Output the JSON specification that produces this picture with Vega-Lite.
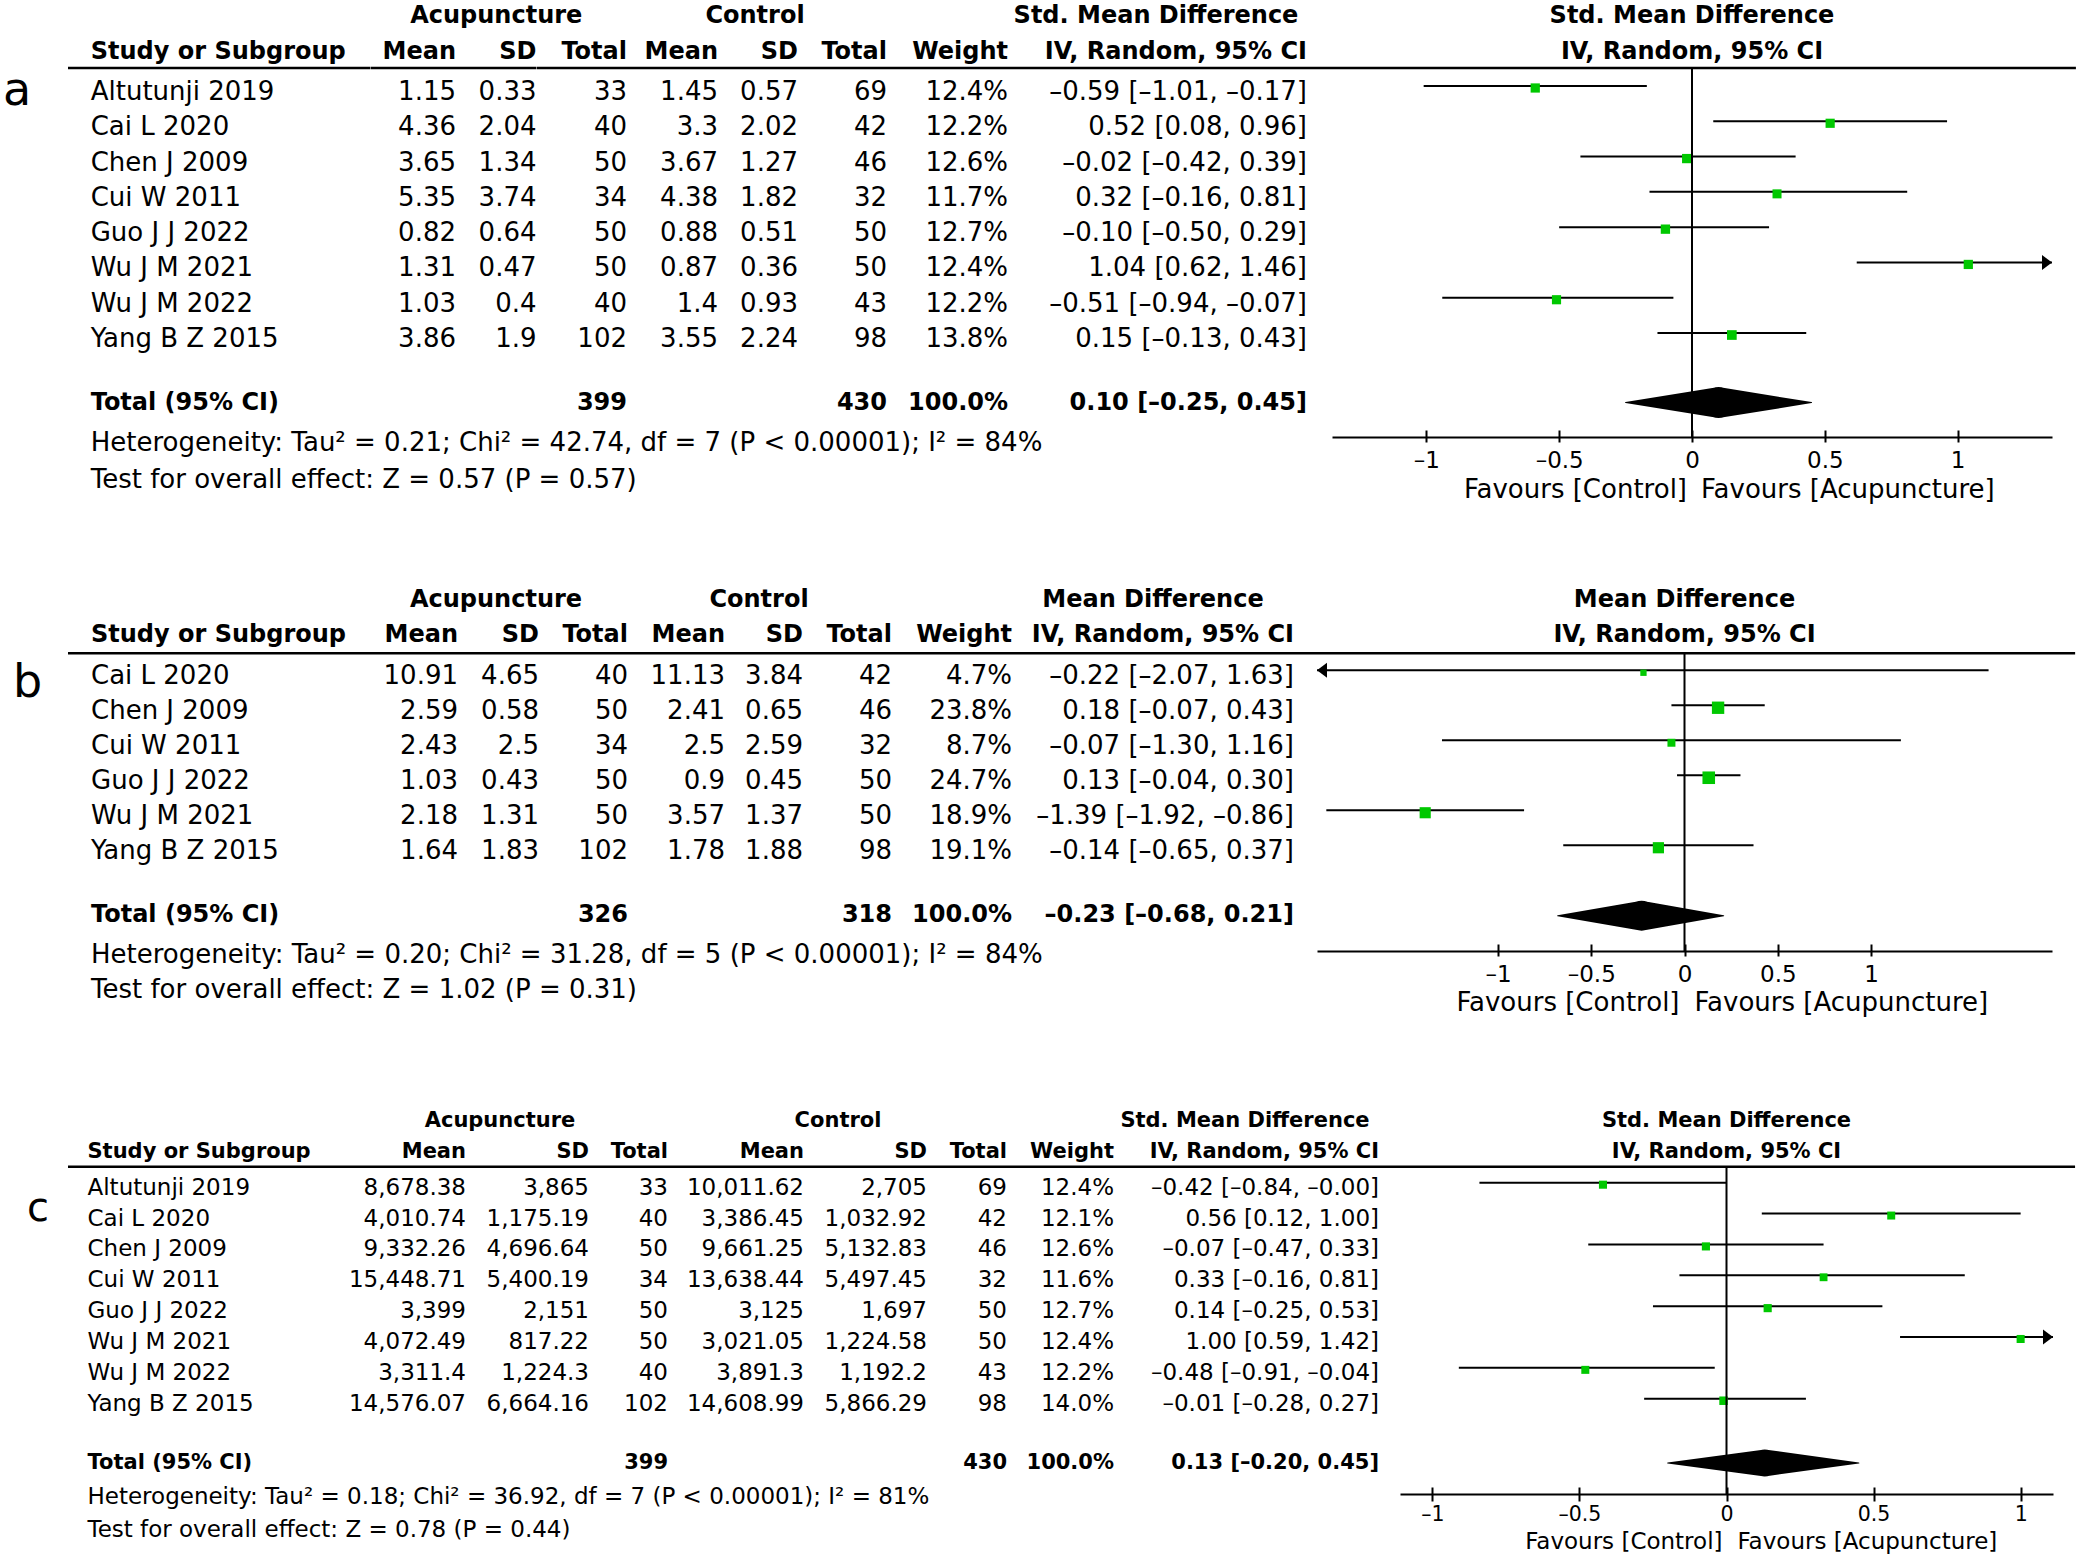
{
"$schema": "https://vega.github.io/schema/vega-lite/v6.json",
"background": "white",
"padding": 0,
"spacing": 0,
"resolve": {"scale": {"size": "independent"}},
"config": {
  "font": "DejaVu Sans",
  "view": {"stroke": null},
  "axisY": {"disable": true},
  "axis": {"grid": false},
  "text": {"fontSize": 26, "baseline": "middle", "color": "black"},
  "rule": {"color": "black"}
},
"datasets": {
  "a": [
    {"study": "Altutunji 2019", "am": 1.15, "asd": 0.33, "at": 33, "cm": 1.45, "csd": 0.57, "ct": 69, "w": 12.4, "es": -0.59, "lo": -1.01, "hi": -0.17},
    {"study": "Cai L 2020", "am": 4.36, "asd": 2.04, "at": 40, "cm": 3.3, "csd": 2.02, "ct": 42, "w": 12.2, "es": 0.52, "lo": 0.08, "hi": 0.96},
    {"study": "Chen J 2009", "am": 3.65, "asd": 1.34, "at": 50, "cm": 3.67, "csd": 1.27, "ct": 46, "w": 12.6, "es": -0.02, "lo": -0.42, "hi": 0.39},
    {"study": "Cui W 2011", "am": 5.35, "asd": 3.74, "at": 34, "cm": 4.38, "csd": 1.82, "ct": 32, "w": 11.7, "es": 0.32, "lo": -0.16, "hi": 0.81},
    {"study": "Guo J J 2022", "am": 0.82, "asd": 0.64, "at": 50, "cm": 0.88, "csd": 0.51, "ct": 50, "w": 12.7, "es": -0.10, "lo": -0.50, "hi": 0.29},
    {"study": "Wu J M 2021", "am": 1.31, "asd": 0.47, "at": 50, "cm": 0.87, "csd": 0.36, "ct": 50, "w": 12.4, "es": 1.04, "lo": 0.62, "hi": 1.46},
    {"study": "Wu J M 2022", "am": 1.03, "asd": 0.4, "at": 40, "cm": 1.4, "csd": 0.93, "ct": 43, "w": 12.2, "es": -0.51, "lo": -0.94, "hi": -0.07},
    {"study": "Yang B Z 2015", "am": 3.86, "asd": 1.9, "at": 102, "cm": 3.55, "csd": 2.24, "ct": 98, "w": 13.8, "es": 0.15, "lo": -0.13, "hi": 0.43}
  ],
  "aT": [
    {"label": "Total (95% CI)", "at": 399, "ct": 430, "w": 100, "es": 0.10, "lo": -0.25, "hi": 0.45,
     "het": "Heterogeneity: Tau² = 0.21; Chi² = 42.74, df = 7 (P < 0.00001); I² = 84%",
     "test": "Test for overall effect: Z = 0.57 (P = 0.57)"}
  ],
  "b": [
    {"study": "Cai L 2020", "am": 10.91, "asd": 4.65, "at": 40, "cm": 11.13, "csd": 3.84, "ct": 42, "w": 4.7, "es": -0.22, "lo": -2.07, "hi": 1.63},
    {"study": "Chen J 2009", "am": 2.59, "asd": 0.58, "at": 50, "cm": 2.41, "csd": 0.65, "ct": 46, "w": 23.8, "es": 0.18, "lo": -0.07, "hi": 0.43},
    {"study": "Cui W 2011", "am": 2.43, "asd": 2.5, "at": 34, "cm": 2.5, "csd": 2.59, "ct": 32, "w": 8.7, "es": -0.07, "lo": -1.30, "hi": 1.16},
    {"study": "Guo J J 2022", "am": 1.03, "asd": 0.43, "at": 50, "cm": 0.9, "csd": 0.45, "ct": 50, "w": 24.7, "es": 0.13, "lo": -0.04, "hi": 0.30},
    {"study": "Wu J M 2021", "am": 2.18, "asd": 1.31, "at": 50, "cm": 3.57, "csd": 1.37, "ct": 50, "w": 18.9, "es": -1.39, "lo": -1.92, "hi": -0.86},
    {"study": "Yang B Z 2015", "am": 1.64, "asd": 1.83, "at": 102, "cm": 1.78, "csd": 1.88, "ct": 98, "w": 19.1, "es": -0.14, "lo": -0.65, "hi": 0.37}
  ],
  "bT": [
    {"label": "Total (95% CI)", "at": 326, "ct": 318, "w": 100, "es": -0.23, "lo": -0.68, "hi": 0.21,
     "het": "Heterogeneity: Tau² = 0.20; Chi² = 31.28, df = 5 (P < 0.00001); I² = 84%",
     "test": "Test for overall effect: Z = 1.02 (P = 0.31)"}
  ],
  "c": [
    {"study": "Altutunji 2019", "am": "8,678.38", "asd": "3,865", "at": 33, "cm": "10,011.62", "csd": "2,705", "ct": 69, "w": 12.4, "es": -0.42, "lo": -0.84, "hi": -0.0},
    {"study": "Cai L 2020", "am": "4,010.74", "asd": "1,175.19", "at": 40, "cm": "3,386.45", "csd": "1,032.92", "ct": 42, "w": 12.1, "es": 0.56, "lo": 0.12, "hi": 1.00},
    {"study": "Chen J 2009", "am": "9,332.26", "asd": "4,696.64", "at": 50, "cm": "9,661.25", "csd": "5,132.83", "ct": 46, "w": 12.6, "es": -0.07, "lo": -0.47, "hi": 0.33},
    {"study": "Cui W 2011", "am": "15,448.71", "asd": "5,400.19", "at": 34, "cm": "13,638.44", "csd": "5,497.45", "ct": 32, "w": 11.6, "es": 0.33, "lo": -0.16, "hi": 0.81},
    {"study": "Guo J J 2022", "am": "3,399", "asd": "2,151", "at": 50, "cm": "3,125", "csd": "1,697", "ct": 50, "w": 12.7, "es": 0.14, "lo": -0.25, "hi": 0.53},
    {"study": "Wu J M 2021", "am": "4,072.49", "asd": "817.22", "at": 50, "cm": "3,021.05", "csd": "1,224.58", "ct": 50, "w": 12.4, "es": 1.00, "lo": 0.59, "hi": 1.42},
    {"study": "Wu J M 2022", "am": "3,311.4", "asd": "1,224.3", "at": 40, "cm": "3,891.3", "csd": "1,192.2", "ct": 43, "w": 12.2, "es": -0.48, "lo": -0.91, "hi": -0.04},
    {"study": "Yang B Z 2015", "am": "14,576.07", "asd": "6,664.16", "at": 102, "cm": "14,608.99", "csd": "5,866.29", "ct": 98, "w": 14.0, "es": -0.01, "lo": -0.28, "hi": 0.27}
  ],
  "cT": [
    {"label": "Total (95% CI)", "at": 399, "ct": 430, "w": 100, "es": 0.13, "lo": -0.20, "hi": 0.45,
     "het": "Heterogeneity: Tau² = 0.18; Chi² = 36.92, df = 7 (P < 0.00001); I² = 81%",
     "test": "Test for overall effect: Z = 0.78 (P = 0.44)"}
  ]
},
"vconcat": [
{"spacing": 0, "bounds": "flush", "hconcat": [
  {"width": 68, "height": 586, "data": {"values": [{"p": "a"}]},
   "mark": {"type": "text", "align": "left", "baseline": "alphabetic", "fontSize": 46, "dx": 3, "dy": 15},
   "encoding": {"x": {"value": 0}, "y": {"datum": 1, "scale": {"domain": [-1.55, 15.055], "reverse": true, "nice": false, "zero": false}}, "text": {"field": "p", "type": "nominal"}}},
  {"width": 302.5, "height": 586, "data": {"name": "a"}, "transform": [{"window": [{"op": "row_number", "as": "r"}]}],
   "layer": [
    {"mark": {"type": "text", "align": "left", "dx": 22.7, "dy": 2}, "encoding": {"x": {"value": 0}, "y": {"field": "r", "type": "quantitative", "scale": {"domain": [-1.55, 15.055], "reverse": true, "nice": false, "zero": false}}, "text": {"field": "study", "type": "nominal"}}},
    {"data": {"values": [{}]}, "mark": {"type": "rule", "strokeWidth": 2.5}, "encoding": {"y": {"datum": 0.377}}},
    {"data": {"values": [{"h": "Study or Subgroup"}]}, "mark": {"type": "text", "fontSize": 24, "align": "left", "fontWeight": "bold", "dx": 22.7, "dy": -3}, "encoding": {"x": {"value": 0}, "y": {"datum": 0}, "text": {"field": "h", "type": "nominal"}}},
    {"data": {"name": "aT"}, "mark": {"type": "text", "fontSize": 24, "align": "left", "fontWeight": "bold", "dx": 22.7, "dy": -5}, "encoding": {"x": {"value": 0}, "y": {"datum": 10}, "text": {"field": "label", "type": "nominal"}}},
    {"data": {"name": "aT"}, "mark": {"type": "text", "align": "left", "dx": 22.7}, "encoding": {"x": {"value": 0}, "y": {"datum": 11}, "text": {"field": "het", "type": "nominal"}}},
    {"data": {"name": "aT"}, "mark": {"type": "text", "align": "left", "dx": 22.7, "dy": 2}, "encoding": {"x": {"value": 0}, "y": {"datum": 12}, "text": {"field": "test", "type": "nominal"}}}
   ]},
  {"width": 85, "height": 586, "data": {"name": "a"}, "transform": [{"window": [{"op": "row_number", "as": "r"}]}],
   "layer": [
    {"mark": {"type": "text", "align": "right", "dy": 2}, "encoding": {"x": {"value": "width"}, "y": {"field": "r", "type": "quantitative", "scale": {"domain": [-1.55, 15.055], "reverse": true, "nice": false, "zero": false}}, "text": {"field": "am", "type": "nominal"}}},
    {"data": {"values": [{}]}, "mark": {"type": "rule", "strokeWidth": 2.5}, "encoding": {"y": {"datum": 0.377}}},
    {"data": {"values": [{"h": "Mean"}]}, "mark": {"type": "text", "fontSize": 24, "align": "right", "fontWeight": "bold", "dy": -3}, "encoding": {"x": {"value": "width"}, "y": {"datum": 0}, "text": {"field": "h", "type": "nominal"}}}
   ]},
  {"width": 80.5, "height": 586, "data": {"name": "a"}, "transform": [{"window": [{"op": "row_number", "as": "r"}]}],
   "layer": [
    {"mark": {"type": "text", "align": "right", "dy": 2}, "encoding": {"x": {"value": "width"}, "y": {"field": "r", "type": "quantitative", "scale": {"domain": [-1.55, 15.055], "reverse": true, "nice": false, "zero": false}}, "text": {"field": "asd", "type": "nominal"}}},
    {"data": {"values": [{}]}, "mark": {"type": "rule", "strokeWidth": 2.5}, "encoding": {"y": {"datum": 0.377}}},
    {"data": {"values": [{"h": "Acupuncture"}]}, "mark": {"type": "text", "fontSize": 24, "fontWeight": "bold", "dy": -3}, "encoding": {"y": {"datum": -1}, "text": {"field": "h", "type": "nominal"}}},
    {"data": {"values": [{"h": "SD"}]}, "mark": {"type": "text", "fontSize": 24, "align": "right", "fontWeight": "bold", "dy": -3}, "encoding": {"x": {"value": "width"}, "y": {"datum": 0}, "text": {"field": "h", "type": "nominal"}}}
   ]},
  {"width": 90, "height": 586, "data": {"name": "a"}, "transform": [{"window": [{"op": "row_number", "as": "r"}]}],
   "layer": [
    {"mark": {"type": "text", "align": "right", "dy": 2}, "encoding": {"x": {"value": "width"}, "y": {"field": "r", "type": "quantitative", "scale": {"domain": [-1.55, 15.055], "reverse": true, "nice": false, "zero": false}}, "text": {"field": "at", "type": "nominal"}}},
    {"data": {"values": [{}]}, "mark": {"type": "rule", "strokeWidth": 2.5}, "encoding": {"y": {"datum": 0.377}}},
    {"data": {"values": [{"h": "Total"}]}, "mark": {"type": "text", "fontSize": 24, "align": "right", "fontWeight": "bold", "dy": -3}, "encoding": {"x": {"value": "width"}, "y": {"datum": 0}, "text": {"field": "h", "type": "nominal"}}},
    {"data": {"name": "aT"}, "mark": {"type": "text", "fontSize": 24, "align": "right", "fontWeight": "bold", "dy": -5}, "encoding": {"x": {"value": "width"}, "y": {"datum": 10}, "text": {"field": "at", "type": "nominal"}}}
   ]},
  {"width": 91, "height": 586, "data": {"name": "a"}, "transform": [{"window": [{"op": "row_number", "as": "r"}]}],
   "layer": [
    {"mark": {"type": "text", "align": "right", "dy": 2}, "encoding": {"x": {"value": "width"}, "y": {"field": "r", "type": "quantitative", "scale": {"domain": [-1.55, 15.055], "reverse": true, "nice": false, "zero": false}}, "text": {"field": "cm", "type": "nominal"}}},
    {"data": {"values": [{}]}, "mark": {"type": "rule", "strokeWidth": 2.5}, "encoding": {"y": {"datum": 0.377}}},
    {"data": {"values": [{"h": "Mean"}]}, "mark": {"type": "text", "fontSize": 24, "align": "right", "fontWeight": "bold", "dy": -3}, "encoding": {"x": {"value": "width"}, "y": {"datum": 0}, "text": {"field": "h", "type": "nominal"}}}
   ]},
  {"width": 80, "height": 586, "data": {"name": "a"}, "transform": [{"window": [{"op": "row_number", "as": "r"}]}],
   "layer": [
    {"mark": {"type": "text", "align": "right", "dy": 2}, "encoding": {"x": {"value": "width"}, "y": {"field": "r", "type": "quantitative", "scale": {"domain": [-1.55, 15.055], "reverse": true, "nice": false, "zero": false}}, "text": {"field": "csd", "type": "nominal"}}},
    {"data": {"values": [{}]}, "mark": {"type": "rule", "strokeWidth": 2.5}, "encoding": {"y": {"datum": 0.377}}},
    {"data": {"values": [{"h": "Control"}]}, "mark": {"type": "text", "fontSize": 24, "fontWeight": "bold", "dy": -3, "dx": -3}, "encoding": {"y": {"datum": -1}, "text": {"field": "h", "type": "nominal"}}},
    {"data": {"values": [{"h": "SD"}]}, "mark": {"type": "text", "fontSize": 24, "align": "right", "fontWeight": "bold", "dy": -3}, "encoding": {"x": {"value": "width"}, "y": {"datum": 0}, "text": {"field": "h", "type": "nominal"}}}
   ]},
  {"width": 89, "height": 586, "data": {"name": "a"}, "transform": [{"window": [{"op": "row_number", "as": "r"}]}],
   "layer": [
    {"mark": {"type": "text", "align": "right", "dy": 2}, "encoding": {"x": {"value": "width"}, "y": {"field": "r", "type": "quantitative", "scale": {"domain": [-1.55, 15.055], "reverse": true, "nice": false, "zero": false}}, "text": {"field": "ct", "type": "nominal"}}},
    {"data": {"values": [{}]}, "mark": {"type": "rule", "strokeWidth": 2.5}, "encoding": {"y": {"datum": 0.377}}},
    {"data": {"values": [{"h": "Total"}]}, "mark": {"type": "text", "fontSize": 24, "align": "right", "fontWeight": "bold", "dy": -3}, "encoding": {"x": {"value": "width"}, "y": {"datum": 0}, "text": {"field": "h", "type": "nominal"}}},
    {"data": {"name": "aT"}, "mark": {"type": "text", "fontSize": 24, "align": "right", "fontWeight": "bold", "dy": -5}, "encoding": {"x": {"value": "width"}, "y": {"datum": 10}, "text": {"field": "ct", "type": "nominal"}}}
   ]},
  {"width": 121, "height": 586, "data": {"name": "a"}, "transform": [{"window": [{"op": "row_number", "as": "r"}]}, {"calculate": "format(datum.w, '.1f') + '%'", "as": "wl"}],
   "layer": [
    {"mark": {"type": "text", "align": "right", "dy": 2}, "encoding": {"x": {"value": "width"}, "y": {"field": "r", "type": "quantitative", "scale": {"domain": [-1.55, 15.055], "reverse": true, "nice": false, "zero": false}}, "text": {"field": "wl", "type": "nominal"}}},
    {"data": {"values": [{}]}, "mark": {"type": "rule", "strokeWidth": 2.5}, "encoding": {"y": {"datum": 0.377}}},
    {"data": {"values": [{"h": "Weight"}]}, "mark": {"type": "text", "fontSize": 24, "align": "right", "fontWeight": "bold", "dy": -3}, "encoding": {"x": {"value": "width"}, "y": {"datum": 0}, "text": {"field": "h", "type": "nominal"}}},
    {"data": {"name": "aT"}, "transform": [{"calculate": "format(datum.w, '.1f') + '%'", "as": "wl"}], "mark": {"type": "text", "fontSize": 24, "align": "right", "fontWeight": "bold", "dy": -5}, "encoding": {"x": {"value": "width"}, "y": {"datum": 10}, "text": {"field": "wl", "type": "nominal"}}}
   ]},
  {"width": 324, "height": 586, "data": {"name": "a"}, "transform": [{"window": [{"op": "row_number", "as": "r"}]}, {"calculate": "(datum.es < 0 || 1 / datum.es < 0 ? '\u2013' : '') + format(abs(datum.es), '.2f') + ' [' + (datum.lo < 0 || 1 / datum.lo < 0 ? '\u2013' : '') + format(abs(datum.lo), '.2f') + ', ' + (datum.hi < 0 || 1 / datum.hi < 0 ? '\u2013' : '') + format(abs(datum.hi), '.2f') + ']'", "as": "ci"}],
   "layer": [
    {"mark": {"type": "text", "align": "right", "dx": -25, "dy": 2}, "encoding": {"x": {"value": "width"}, "y": {"field": "r", "type": "quantitative", "scale": {"domain": [-1.55, 15.055], "reverse": true, "nice": false, "zero": false}}, "text": {"field": "ci", "type": "nominal"}}},
    {"data": {"values": [{}]}, "mark": {"type": "rule", "strokeWidth": 2.5}, "encoding": {"y": {"datum": 0.377}}},
    {"data": {"values": [{"h": "Std. Mean Difference"}]}, "mark": {"type": "text", "fontSize": 24, "fontWeight": "bold", "dy": -3, "dx": -14}, "encoding": {"y": {"datum": -1}, "text": {"field": "h", "type": "nominal"}}},
    {"data": {"values": [{"h": "IV, Random, 95% CI"}]}, "mark": {"type": "text", "fontSize": 24, "align": "right", "fontWeight": "bold", "dy": -3, "dx": -25}, "encoding": {"x": {"value": "width"}, "y": {"datum": 0}, "text": {"field": "h", "type": "nominal"}}},
    {"data": {"name": "aT"}, "transform": [{"calculate": "(datum.es < 0 || 1 / datum.es < 0 ? '\u2013' : '') + format(abs(datum.es), '.2f') + ' [' + (datum.lo < 0 || 1 / datum.lo < 0 ? '\u2013' : '') + format(abs(datum.lo), '.2f') + ', ' + (datum.hi < 0 || 1 / datum.hi < 0 ? '\u2013' : '') + format(abs(datum.hi), '.2f') + ']'", "as": "ci"}], "mark": {"type": "text", "fontSize": 24, "align": "right", "fontWeight": "bold", "dy": -5, "dx": -25}, "encoding": {"x": {"value": "width"}, "y": {"datum": 10}, "text": {"field": "ci", "type": "nominal"}}}
   ]},
  {"width": 720, "height": 437, "data": {"name": "a"},
   "transform": [{"window": [{"op": "row_number", "as": "r"}]}, {"calculate": "max(datum.lo, -1.355)", "as": "loC"}, {"calculate": "min(datum.hi, 1.355)", "as": "hiC"}],
   "resolve": {"axis": {"x": "independent"}, "scale": {"size": "independent"}},
   "layer": [
    {"mark": {"type": "rule", "strokeWidth": 2, "yOffset": -4},
     "encoding": {"x": {"field": "loC", "type": "quantitative", "scale": {"domain": [-1.355, 1.355], "nice": false, "zero": false},
       "axis": {"orient": "bottom", "values": [-1, -0.5, 0, 0.5, 1], "title": null, "domain": true, "domainColor": "black", "domainWidth": 2, "ticks": false, "tickSize": 0, "labelFontSize": 23, "labelColor": "black", "labelPadding": 12, "labelFlush": false, "labelOverlap": false, "labelExpr": "(datum.value < 0 ? '\u2013' : '') + abs(datum.value)"}},
      "x2": {"field": "hiC"},
      "y": {"field": "r", "type": "quantitative", "scale": {"domain": [-1.55, 10.833], "reverse": true, "nice": false, "zero": false}}}},
    {"mark": {"type": "point", "shape": "square", "filled": true, "color": "#00c800", "opacity": 1, "yOffset": -2},
     "encoding": {"x": {"field": "es", "type": "quantitative", "axis": {"orient": "bottom", "values": [-1, -0.5, 0, 0.5, 1], "title": null, "domain": false, "labels": false, "ticks": true, "tickSize": 12, "tickWidth": 2, "tickColor": "black", "offset": -7}},
      "y": {"field": "r", "type": "quantitative"},
      "size": {"field": "w", "type": "quantitative", "scale": {"domain": [0, 25], "range": [12, 160], "zero": false}, "legend": null}}},
    {"transform": [{"filter": "datum.hi > 1.355"}], "mark": {"type": "point", "shape": "M-1,-0.75L0,0L-1,0.75Z", "filled": true, "color": "black", "opacity": 1, "size": 400, "yOffset": -4},
     "encoding": {"x": {"field": "hiC", "type": "quantitative", "axis": null}, "y": {"field": "r", "type": "quantitative"}}},
    {"data": {"values": [{}]}, "mark": {"type": "rule", "strokeWidth": 2.5}, "encoding": {"x": {"datum": -1.355, "type": "quantitative", "axis": null}, "x2": {"datum": 1.445}, "y": {"datum": 0.377}}},
    {"data": {"values": [{"h": "Std. Mean Difference"}]}, "mark": {"type": "text", "fontSize": 24, "fontWeight": "bold", "dy": -3}, "encoding": {"x": {"datum": 0, "axis": null}, "y": {"datum": -1}, "text": {"field": "h", "type": "nominal"}}},
    {"data": {"values": [{"h": "IV, Random, 95% CI"}]}, "mark": {"type": "text", "fontSize": 24, "fontWeight": "bold", "dy": -3}, "encoding": {"x": {"datum": 0, "axis": null}, "y": {"datum": 0}, "text": {"field": "h", "type": "nominal"}}},
    {"data": {"values": [{}]}, "mark": {"type": "rule", "strokeWidth": 2}, "encoding": {"x": {"datum": 0, "axis": null}, "y": {"datum": 0.377}, "y2": {"datum": 10.833}}},
    {"data": {"name": "aT"}, "transform": [{"fold": ["lo", "es", "hi"], "as": ["k", "v"]}, {"calculate": "datum.k == 'es' ? 1 : 0", "as": "t"}],
     "mark": {"type": "trail", "color": "black", "yOffset": -5},
     "encoding": {"x": {"field": "v", "type": "quantitative", "axis": null}, "y": {"datum": 10}, "size": {"field": "t", "type": "quantitative", "scale": {"domain": [0, 1], "range": [0, 31]}, "legend": null}}},
    {"data": {"values": [{"f": "Favours [Control]"}]}, "mark": {"type": "text", "align": "right", "dx": -5, "dy": 53}, "encoding": {"x": {"datum": 0, "axis": null}, "y": {"value": "height"}, "text": {"field": "f", "type": "nominal"}}},
    {"data": {"values": [{"f": "Favours [Acupuncture]"}]}, "mark": {"type": "text", "align": "left", "dx": 9, "dy": 53}, "encoding": {"x": {"datum": 0, "axis": null}, "y": {"value": "height"}, "text": {"field": "f", "type": "nominal"}}}
   ]}
]},
{"spacing": 0, "bounds": "flush", "hconcat": [
  {"width": 68, "height": 522, "data": {"values": [{"p": "b"}]},
   "mark": {"type": "text", "align": "left", "baseline": "alphabetic", "fontSize": 46, "dx": 13, "dy": 22},
   "encoding": {"x": {"value": 0}, "y": {"datum": 1, "scale": {"domain": [-1.55, 13.364], "reverse": true, "nice": false, "zero": false}}, "text": {"field": "p", "type": "nominal"}}},
  {"width": 305, "height": 522, "data": {"name": "b"}, "transform": [{"window": [{"op": "row_number", "as": "r"}]}],
   "layer": [
    {"mark": {"type": "text", "align": "left", "dx": 23, "dy": 1}, "encoding": {"x": {"value": 0}, "y": {"field": "r", "type": "quantitative", "scale": {"domain": [-1.55, 13.364], "reverse": true, "nice": false, "zero": false}}, "text": {"field": "study", "type": "nominal"}}},
    {"data": {"values": [{}]}, "mark": {"type": "rule", "strokeWidth": 2.5}, "encoding": {"y": {"datum": 0.371}}},
    {"data": {"values": [{"h": "Study or Subgroup"}]}, "mark": {"type": "text", "fontSize": 24, "align": "left", "fontWeight": "bold", "dx": 23, "dy": -5}, "encoding": {"x": {"value": 0}, "y": {"datum": 0}, "text": {"field": "h", "type": "nominal"}}},
    {"data": {"name": "bT"}, "mark": {"type": "text", "fontSize": 24, "align": "left", "fontWeight": "bold", "dx": 23, "dy": -5}, "encoding": {"x": {"value": 0}, "y": {"datum": 8}, "text": {"field": "label", "type": "nominal"}}},
    {"data": {"name": "bT"}, "mark": {"type": "text", "align": "left", "dx": 23}, "encoding": {"x": {"value": 0}, "y": {"datum": 9}, "text": {"field": "het", "type": "nominal"}}},
    {"data": {"name": "bT"}, "mark": {"type": "text", "align": "left", "dx": 23}, "encoding": {"x": {"value": 0}, "y": {"datum": 10}, "text": {"field": "test", "type": "nominal"}}}
   ]},
  {"width": 85, "height": 522, "data": {"name": "b"}, "transform": [{"window": [{"op": "row_number", "as": "r"}]}],
   "layer": [
    {"mark": {"type": "text", "align": "right", "dy": 1}, "encoding": {"x": {"value": "width"}, "y": {"field": "r", "type": "quantitative", "scale": {"domain": [-1.55, 13.364], "reverse": true, "nice": false, "zero": false}}, "text": {"field": "am", "type": "nominal"}}},
    {"data": {"values": [{}]}, "mark": {"type": "rule", "strokeWidth": 2.5}, "encoding": {"y": {"datum": 0.371}}},
    {"data": {"values": [{"h": "Mean"}]}, "mark": {"type": "text", "fontSize": 24, "align": "right", "fontWeight": "bold", "dy": -5}, "encoding": {"x": {"value": "width"}, "y": {"datum": 0}, "text": {"field": "h", "type": "nominal"}}}
   ]},
  {"width": 81, "height": 522, "data": {"name": "b"}, "transform": [{"window": [{"op": "row_number", "as": "r"}]}],
   "layer": [
    {"mark": {"type": "text", "align": "right", "dy": 1}, "encoding": {"x": {"value": "width"}, "y": {"field": "r", "type": "quantitative", "scale": {"domain": [-1.55, 13.364], "reverse": true, "nice": false, "zero": false}}, "text": {"field": "asd", "type": "nominal"}}},
    {"data": {"values": [{}]}, "mark": {"type": "rule", "strokeWidth": 2.5}, "encoding": {"y": {"datum": 0.371}}},
    {"data": {"values": [{"h": "Acupuncture"}]}, "mark": {"type": "text", "fontSize": 24, "fontWeight": "bold", "dy": -5, "dx": -2.5}, "encoding": {"y": {"datum": -1}, "text": {"field": "h", "type": "nominal"}}},
    {"data": {"values": [{"h": "SD"}]}, "mark": {"type": "text", "fontSize": 24, "align": "right", "fontWeight": "bold", "dy": -5}, "encoding": {"x": {"value": "width"}, "y": {"datum": 0}, "text": {"field": "h", "type": "nominal"}}}
   ]},
  {"width": 89, "height": 522, "data": {"name": "b"}, "transform": [{"window": [{"op": "row_number", "as": "r"}]}],
   "layer": [
    {"mark": {"type": "text", "align": "right", "dy": 1}, "encoding": {"x": {"value": "width"}, "y": {"field": "r", "type": "quantitative", "scale": {"domain": [-1.55, 13.364], "reverse": true, "nice": false, "zero": false}}, "text": {"field": "at", "type": "nominal"}}},
    {"data": {"values": [{}]}, "mark": {"type": "rule", "strokeWidth": 2.5}, "encoding": {"y": {"datum": 0.371}}},
    {"data": {"values": [{"h": "Total"}]}, "mark": {"type": "text", "fontSize": 24, "align": "right", "fontWeight": "bold", "dy": -5}, "encoding": {"x": {"value": "width"}, "y": {"datum": 0}, "text": {"field": "h", "type": "nominal"}}},
    {"data": {"name": "bT"}, "mark": {"type": "text", "fontSize": 24, "align": "right", "fontWeight": "bold", "dy": -5}, "encoding": {"x": {"value": "width"}, "y": {"datum": 8}, "text": {"field": "at", "type": "nominal"}}}
   ]},
  {"width": 97, "height": 522, "data": {"name": "b"}, "transform": [{"window": [{"op": "row_number", "as": "r"}]}],
   "layer": [
    {"mark": {"type": "text", "align": "right", "dy": 1}, "encoding": {"x": {"value": "width"}, "y": {"field": "r", "type": "quantitative", "scale": {"domain": [-1.55, 13.364], "reverse": true, "nice": false, "zero": false}}, "text": {"field": "cm", "type": "nominal"}}},
    {"data": {"values": [{}]}, "mark": {"type": "rule", "strokeWidth": 2.5}, "encoding": {"y": {"datum": 0.371}}},
    {"data": {"values": [{"h": "Mean"}]}, "mark": {"type": "text", "fontSize": 24, "align": "right", "fontWeight": "bold", "dy": -5}, "encoding": {"x": {"value": "width"}, "y": {"datum": 0}, "text": {"field": "h", "type": "nominal"}}}
   ]},
  {"width": 78, "height": 522, "data": {"name": "b"}, "transform": [{"window": [{"op": "row_number", "as": "r"}]}],
   "layer": [
    {"mark": {"type": "text", "align": "right", "dy": 1}, "encoding": {"x": {"value": "width"}, "y": {"field": "r", "type": "quantitative", "scale": {"domain": [-1.55, 13.364], "reverse": true, "nice": false, "zero": false}}, "text": {"field": "csd", "type": "nominal"}}},
    {"data": {"values": [{}]}, "mark": {"type": "rule", "strokeWidth": 2.5}, "encoding": {"y": {"datum": 0.371}}},
    {"data": {"values": [{"h": "Control"}]}, "mark": {"type": "text", "fontSize": 24, "fontWeight": "bold", "dy": -5, "dx": -5}, "encoding": {"y": {"datum": -1}, "text": {"field": "h", "type": "nominal"}}},
    {"data": {"values": [{"h": "SD"}]}, "mark": {"type": "text", "fontSize": 24, "align": "right", "fontWeight": "bold", "dy": -5}, "encoding": {"x": {"value": "width"}, "y": {"datum": 0}, "text": {"field": "h", "type": "nominal"}}}
   ]},
  {"width": 89, "height": 522, "data": {"name": "b"}, "transform": [{"window": [{"op": "row_number", "as": "r"}]}],
   "layer": [
    {"mark": {"type": "text", "align": "right", "dy": 1}, "encoding": {"x": {"value": "width"}, "y": {"field": "r", "type": "quantitative", "scale": {"domain": [-1.55, 13.364], "reverse": true, "nice": false, "zero": false}}, "text": {"field": "ct", "type": "nominal"}}},
    {"data": {"values": [{}]}, "mark": {"type": "rule", "strokeWidth": 2.5}, "encoding": {"y": {"datum": 0.371}}},
    {"data": {"values": [{"h": "Total"}]}, "mark": {"type": "text", "fontSize": 24, "align": "right", "fontWeight": "bold", "dy": -5}, "encoding": {"x": {"value": "width"}, "y": {"datum": 0}, "text": {"field": "h", "type": "nominal"}}},
    {"data": {"name": "bT"}, "mark": {"type": "text", "fontSize": 24, "align": "right", "fontWeight": "bold", "dy": -5}, "encoding": {"x": {"value": "width"}, "y": {"datum": 8}, "text": {"field": "ct", "type": "nominal"}}}
   ]},
  {"width": 120, "height": 522, "data": {"name": "b"}, "transform": [{"window": [{"op": "row_number", "as": "r"}]}, {"calculate": "format(datum.w, '.1f') + '%'", "as": "wl"}],
   "layer": [
    {"mark": {"type": "text", "align": "right", "dy": 1}, "encoding": {"x": {"value": "width"}, "y": {"field": "r", "type": "quantitative", "scale": {"domain": [-1.55, 13.364], "reverse": true, "nice": false, "zero": false}}, "text": {"field": "wl", "type": "nominal"}}},
    {"data": {"values": [{}]}, "mark": {"type": "rule", "strokeWidth": 2.5}, "encoding": {"y": {"datum": 0.371}}},
    {"data": {"values": [{"h": "Weight"}]}, "mark": {"type": "text", "fontSize": 24, "align": "right", "fontWeight": "bold", "dy": -5}, "encoding": {"x": {"value": "width"}, "y": {"datum": 0}, "text": {"field": "h", "type": "nominal"}}},
    {"data": {"name": "bT"}, "transform": [{"calculate": "format(datum.w, '.1f') + '%'", "as": "wl"}], "mark": {"type": "text", "fontSize": 24, "align": "right", "fontWeight": "bold", "dy": -5}, "encoding": {"x": {"value": "width"}, "y": {"datum": 8}, "text": {"field": "wl", "type": "nominal"}}}
   ]},
  {"width": 305, "height": 522, "data": {"name": "b"}, "transform": [{"window": [{"op": "row_number", "as": "r"}]}, {"calculate": "(datum.es < 0 || 1 / datum.es < 0 ? '\u2013' : '') + format(abs(datum.es), '.2f') + ' [' + (datum.lo < 0 || 1 / datum.lo < 0 ? '\u2013' : '') + format(abs(datum.lo), '.2f') + ', ' + (datum.hi < 0 || 1 / datum.hi < 0 ? '\u2013' : '') + format(abs(datum.hi), '.2f') + ']'", "as": "ci"}],
   "layer": [
    {"mark": {"type": "text", "align": "right", "dx": -23, "dy": 1}, "encoding": {"x": {"value": "width"}, "y": {"field": "r", "type": "quantitative", "scale": {"domain": [-1.55, 13.364], "reverse": true, "nice": false, "zero": false}}, "text": {"field": "ci", "type": "nominal"}}},
    {"data": {"values": [{}]}, "mark": {"type": "rule", "strokeWidth": 2.5}, "encoding": {"y": {"datum": 0.371}}},
    {"data": {"values": [{"h": "Mean Difference"}]}, "mark": {"type": "text", "fontSize": 24, "fontWeight": "bold", "dy": -5, "dx": -11.5}, "encoding": {"y": {"datum": -1}, "text": {"field": "h", "type": "nominal"}}},
    {"data": {"values": [{"h": "IV, Random, 95% CI"}]}, "mark": {"type": "text", "fontSize": 24, "align": "right", "fontWeight": "bold", "dy": -5, "dx": -23}, "encoding": {"x": {"value": "width"}, "y": {"datum": 0}, "text": {"field": "h", "type": "nominal"}}},
    {"data": {"name": "bT"}, "transform": [{"calculate": "(datum.es < 0 || 1 / datum.es < 0 ? '\u2013' : '') + format(abs(datum.es), '.2f') + ' [' + (datum.lo < 0 || 1 / datum.lo < 0 ? '\u2013' : '') + format(abs(datum.lo), '.2f') + ', ' + (datum.hi < 0 || 1 / datum.hi < 0 ? '\u2013' : '') + format(abs(datum.hi), '.2f') + ']'", "as": "ci"}], "mark": {"type": "text", "fontSize": 24, "align": "right", "fontWeight": "bold", "dy": -5, "dx": -23}, "encoding": {"x": {"value": "width"}, "y": {"datum": 8}, "text": {"field": "ci", "type": "nominal"}}}
   ]},
  {"width": 735, "height": 365, "data": {"name": "b"},
   "transform": [{"window": [{"op": "row_number", "as": "r"}]}, {"calculate": "max(datum.lo, -1.97)", "as": "loC"}, {"calculate": "min(datum.hi, 1.97)", "as": "hiC"}],
   "resolve": {"axis": {"x": "independent"}, "scale": {"size": "independent"}},
   "layer": [
    {"mark": {"type": "rule", "strokeWidth": 2, "yOffset": -5},
     "encoding": {"x": {"field": "loC", "type": "quantitative", "scale": {"domain": [-1.97, 1.97], "nice": false, "zero": false},
       "axis": {"orient": "bottom", "values": [-1, -0.5, 0, 0.5, 1], "title": null, "domain": true, "domainColor": "black", "domainWidth": 2, "ticks": false, "tickSize": 0, "labelFontSize": 23, "labelColor": "black", "labelPadding": 12, "labelFlush": false, "labelOverlap": false, "labelExpr": "(datum.value < 0 ? '\u2013' : '') + abs(datum.value)"}},
      "x2": {"field": "hiC"},
      "y": {"field": "r", "type": "quantitative", "scale": {"domain": [-1.55, 8.879], "reverse": true, "nice": false, "zero": false}}}},
    {"mark": {"type": "point", "shape": "square", "filled": true, "color": "#00c800", "opacity": 1, "yOffset": -2.5},
     "encoding": {"x": {"field": "es", "type": "quantitative", "axis": {"orient": "bottom", "values": [-1, -0.5, 0, 0.5, 1], "title": null, "domain": false, "labels": false, "ticks": true, "tickSize": 12, "tickWidth": 2, "tickColor": "black", "offset": -7}},
      "y": {"field": "r", "type": "quantitative"},
      "size": {"field": "w", "type": "quantitative", "scale": {"domain": [0, 25], "range": [12, 160], "zero": false}, "legend": null}}},
    {"transform": [{"filter": "datum.lo < -1.97"}], "mark": {"type": "point", "shape": "M1,-0.75L0,0L1,0.75Z", "filled": true, "color": "black", "opacity": 1, "size": 400, "yOffset": -5},
     "encoding": {"x": {"field": "loC", "type": "quantitative", "axis": null}, "y": {"field": "r", "type": "quantitative"}}},
    {"data": {"values": [{}]}, "mark": {"type": "rule", "strokeWidth": 2.5}, "encoding": {"x": {"datum": -1.97, "type": "quantitative", "axis": null}, "x2": {"datum": 2.094}, "y": {"datum": 0.371}}},
    {"data": {"values": [{"h": "Mean Difference"}]}, "mark": {"type": "text", "fontSize": 24, "fontWeight": "bold", "dy": -5}, "encoding": {"x": {"datum": 0, "axis": null}, "y": {"datum": -1}, "text": {"field": "h", "type": "nominal"}}},
    {"data": {"values": [{"h": "IV, Random, 95% CI"}]}, "mark": {"type": "text", "fontSize": 24, "fontWeight": "bold", "dy": -5}, "encoding": {"x": {"datum": 0, "axis": null}, "y": {"datum": 0}, "text": {"field": "h", "type": "nominal"}}},
    {"data": {"values": [{}]}, "mark": {"type": "rule", "strokeWidth": 2}, "encoding": {"x": {"datum": 0, "axis": null}, "y": {"datum": 0.371}, "y2": {"datum": 8.879}}},
    {"data": {"name": "bT"}, "transform": [{"fold": ["lo", "es", "hi"], "as": ["k", "v"]}, {"calculate": "datum.k == 'es' ? 1 : 0", "as": "t"}],
     "mark": {"type": "trail", "color": "black", "yOffset": -4.5},
     "encoding": {"x": {"field": "v", "type": "quantitative", "axis": null}, "y": {"datum": 8}, "size": {"field": "t", "type": "quantitative", "scale": {"domain": [0, 1], "range": [0, 30]}, "legend": null}}},
    {"data": {"values": [{"f": "Favours [Control]"}]}, "mark": {"type": "text", "align": "right", "dx": -5, "dy": 52}, "encoding": {"x": {"datum": 0, "axis": null}, "y": {"value": "height"}, "text": {"field": "f", "type": "nominal"}}},
    {"data": {"values": [{"f": "Favours [Acupuncture]"}]}, "mark": {"type": "text", "align": "left", "dx": 10, "dy": 52}, "encoding": {"x": {"datum": 0, "axis": null}, "y": {"value": "height"}, "text": {"field": "f", "type": "nominal"}}}
   ]}
]},
{"spacing": 0, "bounds": "flush", "hconcat": [
  {"width": 68, "height": 446, "data": {"values": [{"p": "c"}]},
   "mark": {"type": "text", "align": "left", "baseline": "alphabetic", "fontSize": 40, "dx": 27, "dy": 34},
   "encoding": {"x": {"value": 0}, "y": {"datum": 1, "scale": {"domain": [-1.55, 12.902], "reverse": true, "nice": false, "zero": false}}, "text": {"field": "p", "type": "nominal"}}},
  {"width": 298, "height": 446, "data": {"name": "c"}, "transform": [{"window": [{"op": "row_number", "as": "r"}]}],
   "layer": [
    {"mark": {"type": "text", "fontSize": 23, "align": "left", "dx": 19.5, "dy": 1}, "encoding": {"x": {"value": 0}, "y": {"field": "r", "type": "quantitative", "scale": {"domain": [-1.55, 12.902], "reverse": true, "nice": false, "zero": false}}, "text": {"field": "study", "type": "nominal"}}},
    {"data": {"values": [{}]}, "mark": {"type": "rule", "strokeWidth": 2.5}, "encoding": {"y": {"datum": 0.352}}},
    {"data": {"values": [{"h": "Study or Subgroup"}]}, "mark": {"type": "text", "fontSize": 21, "align": "left", "fontWeight": "bold", "dx": 19.5, "dy": -3.5}, "encoding": {"x": {"value": 0}, "y": {"datum": 0}, "text": {"field": "h", "type": "nominal"}}},
    {"data": {"name": "cT"}, "mark": {"type": "text", "fontSize": 21, "align": "left", "fontWeight": "bold", "dx": 19.5, "dy": -1.5}, "encoding": {"x": {"value": 0}, "y": {"datum": 10}, "text": {"field": "label", "type": "nominal"}}},
    {"data": {"name": "cT"}, "mark": {"type": "text", "fontSize": 23, "align": "left", "dx": 19.5, "dy": 1.5}, "encoding": {"x": {"value": 0}, "y": {"datum": 11}, "text": {"field": "het", "type": "nominal"}}},
    {"data": {"name": "cT"}, "mark": {"type": "text", "fontSize": 23, "align": "left", "dx": 19.5, "dy": 4}, "encoding": {"x": {"value": 0}, "y": {"datum": 12}, "text": {"field": "test", "type": "nominal"}}}
   ]},
  {"width": 100, "height": 446, "data": {"name": "c"}, "transform": [{"window": [{"op": "row_number", "as": "r"}]}],
   "layer": [
    {"mark": {"type": "text", "fontSize": 23, "align": "right", "dy": 1}, "encoding": {"x": {"value": "width"}, "y": {"field": "r", "type": "quantitative", "scale": {"domain": [-1.55, 12.902], "reverse": true, "nice": false, "zero": false}}, "text": {"field": "am", "type": "nominal"}}},
    {"data": {"values": [{}]}, "mark": {"type": "rule", "strokeWidth": 2.5}, "encoding": {"y": {"datum": 0.352}}},
    {"data": {"values": [{"h": "Mean"}]}, "mark": {"type": "text", "fontSize": 21, "align": "right", "fontWeight": "bold", "dy": -3.5}, "encoding": {"x": {"value": "width"}, "y": {"datum": 0}, "text": {"field": "h", "type": "nominal"}}}
   ]},
  {"width": 123, "height": 446, "data": {"name": "c"}, "transform": [{"window": [{"op": "row_number", "as": "r"}]}],
   "layer": [
    {"mark": {"type": "text", "fontSize": 23, "align": "right", "dy": 1}, "encoding": {"x": {"value": "width"}, "y": {"field": "r", "type": "quantitative", "scale": {"domain": [-1.55, 12.902], "reverse": true, "nice": false, "zero": false}}, "text": {"field": "asd", "type": "nominal"}}},
    {"data": {"values": [{}]}, "mark": {"type": "rule", "strokeWidth": 2.5}, "encoding": {"y": {"datum": 0.352}}},
    {"data": {"values": [{"h": "Acupuncture"}]}, "mark": {"type": "text", "fontSize": 21, "fontWeight": "bold", "dy": -3.5, "dx": -27.5}, "encoding": {"y": {"datum": -1}, "text": {"field": "h", "type": "nominal"}}},
    {"data": {"values": [{"h": "SD"}]}, "mark": {"type": "text", "fontSize": 21, "align": "right", "fontWeight": "bold", "dy": -3.5}, "encoding": {"x": {"value": "width"}, "y": {"datum": 0}, "text": {"field": "h", "type": "nominal"}}}
   ]},
  {"width": 79, "height": 446, "data": {"name": "c"}, "transform": [{"window": [{"op": "row_number", "as": "r"}]}],
   "layer": [
    {"mark": {"type": "text", "fontSize": 23, "align": "right", "dy": 1}, "encoding": {"x": {"value": "width"}, "y": {"field": "r", "type": "quantitative", "scale": {"domain": [-1.55, 12.902], "reverse": true, "nice": false, "zero": false}}, "text": {"field": "at", "type": "nominal"}}},
    {"data": {"values": [{}]}, "mark": {"type": "rule", "strokeWidth": 2.5}, "encoding": {"y": {"datum": 0.352}}},
    {"data": {"values": [{"h": "Total"}]}, "mark": {"type": "text", "fontSize": 21, "align": "right", "fontWeight": "bold", "dy": -3.5}, "encoding": {"x": {"value": "width"}, "y": {"datum": 0}, "text": {"field": "h", "type": "nominal"}}},
    {"data": {"name": "cT"}, "mark": {"type": "text", "fontSize": 21, "align": "right", "fontWeight": "bold", "dy": -1.5}, "encoding": {"x": {"value": "width"}, "y": {"datum": 10}, "text": {"field": "at", "type": "nominal"}}}
   ]},
  {"width": 136, "height": 446, "data": {"name": "c"}, "transform": [{"window": [{"op": "row_number", "as": "r"}]}],
   "layer": [
    {"mark": {"type": "text", "fontSize": 23, "align": "right", "dy": 1}, "encoding": {"x": {"value": "width"}, "y": {"field": "r", "type": "quantitative", "scale": {"domain": [-1.55, 12.902], "reverse": true, "nice": false, "zero": false}}, "text": {"field": "cm", "type": "nominal"}}},
    {"data": {"values": [{}]}, "mark": {"type": "rule", "strokeWidth": 2.5}, "encoding": {"y": {"datum": 0.352}}},
    {"data": {"values": [{"h": "Mean"}]}, "mark": {"type": "text", "fontSize": 21, "align": "right", "fontWeight": "bold", "dy": -3.5}, "encoding": {"x": {"value": "width"}, "y": {"datum": 0}, "text": {"field": "h", "type": "nominal"}}}
   ]},
  {"width": 123, "height": 446, "data": {"name": "c"}, "transform": [{"window": [{"op": "row_number", "as": "r"}]}],
   "layer": [
    {"mark": {"type": "text", "fontSize": 23, "align": "right", "dy": 1}, "encoding": {"x": {"value": "width"}, "y": {"field": "r", "type": "quantitative", "scale": {"domain": [-1.55, 12.902], "reverse": true, "nice": false, "zero": false}}, "text": {"field": "csd", "type": "nominal"}}},
    {"data": {"values": [{}]}, "mark": {"type": "rule", "strokeWidth": 2.5}, "encoding": {"y": {"datum": 0.352}}},
    {"data": {"values": [{"h": "Control"}]}, "mark": {"type": "text", "fontSize": 21, "fontWeight": "bold", "dy": -3.5, "dx": -27.5}, "encoding": {"y": {"datum": -1}, "text": {"field": "h", "type": "nominal"}}},
    {"data": {"values": [{"h": "SD"}]}, "mark": {"type": "text", "fontSize": 21, "align": "right", "fontWeight": "bold", "dy": -3.5}, "encoding": {"x": {"value": "width"}, "y": {"datum": 0}, "text": {"field": "h", "type": "nominal"}}}
   ]},
  {"width": 80, "height": 446, "data": {"name": "c"}, "transform": [{"window": [{"op": "row_number", "as": "r"}]}],
   "layer": [
    {"mark": {"type": "text", "fontSize": 23, "align": "right", "dy": 1}, "encoding": {"x": {"value": "width"}, "y": {"field": "r", "type": "quantitative", "scale": {"domain": [-1.55, 12.902], "reverse": true, "nice": false, "zero": false}}, "text": {"field": "ct", "type": "nominal"}}},
    {"data": {"values": [{}]}, "mark": {"type": "rule", "strokeWidth": 2.5}, "encoding": {"y": {"datum": 0.352}}},
    {"data": {"values": [{"h": "Total"}]}, "mark": {"type": "text", "fontSize": 21, "align": "right", "fontWeight": "bold", "dy": -3.5}, "encoding": {"x": {"value": "width"}, "y": {"datum": 0}, "text": {"field": "h", "type": "nominal"}}},
    {"data": {"name": "cT"}, "mark": {"type": "text", "fontSize": 21, "align": "right", "fontWeight": "bold", "dy": -1.5}, "encoding": {"x": {"value": "width"}, "y": {"datum": 10}, "text": {"field": "ct", "type": "nominal"}}}
   ]},
  {"width": 107, "height": 446, "data": {"name": "c"}, "transform": [{"window": [{"op": "row_number", "as": "r"}]}, {"calculate": "format(datum.w, '.1f') + '%'", "as": "wl"}],
   "layer": [
    {"mark": {"type": "text", "fontSize": 23, "align": "right", "dy": 1}, "encoding": {"x": {"value": "width"}, "y": {"field": "r", "type": "quantitative", "scale": {"domain": [-1.55, 12.902], "reverse": true, "nice": false, "zero": false}}, "text": {"field": "wl", "type": "nominal"}}},
    {"data": {"values": [{}]}, "mark": {"type": "rule", "strokeWidth": 2.5}, "encoding": {"y": {"datum": 0.352}}},
    {"data": {"values": [{"h": "Weight"}]}, "mark": {"type": "text", "fontSize": 21, "align": "right", "fontWeight": "bold", "dy": -3.5}, "encoding": {"x": {"value": "width"}, "y": {"datum": 0}, "text": {"field": "h", "type": "nominal"}}},
    {"data": {"name": "cT"}, "transform": [{"calculate": "format(datum.w, '.1f') + '%'", "as": "wl"}], "mark": {"type": "text", "fontSize": 21, "align": "right", "fontWeight": "bold", "dy": -1.5}, "encoding": {"x": {"value": "width"}, "y": {"datum": 10}, "text": {"field": "wl", "type": "nominal"}}}
   ]},
  {"width": 286, "height": 446, "data": {"name": "c"}, "transform": [{"window": [{"op": "row_number", "as": "r"}]}, {"calculate": "(datum.es < 0 || 1 / datum.es < 0 ? '\u2013' : '') + format(abs(datum.es), '.2f') + ' [' + (datum.lo < 0 || 1 / datum.lo < 0 ? '\u2013' : '') + format(abs(datum.lo), '.2f') + ', ' + (datum.hi < 0 || 1 / datum.hi < 0 ? '\u2013' : '') + format(abs(datum.hi), '.2f') + ']'", "as": "ci"}],
   "layer": [
    {"mark": {"type": "text", "fontSize": 23, "align": "right", "dx": -21, "dy": 1}, "encoding": {"x": {"value": "width"}, "y": {"field": "r", "type": "quantitative", "scale": {"domain": [-1.55, 12.902], "reverse": true, "nice": false, "zero": false}}, "text": {"field": "ci", "type": "nominal"}}},
    {"data": {"values": [{}]}, "mark": {"type": "rule", "strokeWidth": 2.5}, "encoding": {"y": {"datum": 0.352}}},
    {"data": {"values": [{"h": "Std. Mean Difference"}]}, "mark": {"type": "text", "fontSize": 21, "fontWeight": "bold", "dy": -3.5, "dx": -12}, "encoding": {"y": {"datum": -1}, "text": {"field": "h", "type": "nominal"}}},
    {"data": {"values": [{"h": "IV, Random, 95% CI"}]}, "mark": {"type": "text", "fontSize": 21, "align": "right", "fontWeight": "bold", "dy": -3.5, "dx": -21}, "encoding": {"x": {"value": "width"}, "y": {"datum": 0}, "text": {"field": "h", "type": "nominal"}}},
    {"data": {"name": "cT"}, "transform": [{"calculate": "(datum.es < 0 || 1 / datum.es < 0 ? '\u2013' : '') + format(abs(datum.es), '.2f') + ' [' + (datum.lo < 0 || 1 / datum.lo < 0 ? '\u2013' : '') + format(abs(datum.lo), '.2f') + ', ' + (datum.hi < 0 || 1 / datum.hi < 0 ? '\u2013' : '') + format(abs(datum.hi), '.2f') + ']'", "as": "ci"}], "mark": {"type": "text", "fontSize": 21, "align": "right", "fontWeight": "bold", "dy": -1.5, "dx": -21}, "encoding": {"x": {"value": "width"}, "y": {"datum": 10}, "text": {"field": "ci", "type": "nominal"}}}
   ]},
  {"width": 653, "height": 386, "data": {"name": "c"},
   "transform": [{"window": [{"op": "row_number", "as": "r"}]}, {"calculate": "max(datum.lo, -1.11)", "as": "loC"}, {"calculate": "min(datum.hi, 1.11)", "as": "hiC"}],
   "resolve": {"axis": {"x": "independent"}, "scale": {"size": "independent"}},
   "layer": [
    {"mark": {"type": "rule", "strokeWidth": 2, "yOffset": -4},
     "encoding": {"x": {"field": "loC", "type": "quantitative", "scale": {"domain": [-1.11, 1.11], "nice": false, "zero": false},
       "axis": {"orient": "bottom", "values": [-1, -0.5, 0, 0.5, 1], "title": null, "domain": true, "domainColor": "black", "domainWidth": 2, "ticks": false, "tickSize": 0, "labelFontSize": 20.5, "labelColor": "black", "labelPadding": 10, "labelFlush": false, "labelOverlap": false, "labelExpr": "(datum.value < 0 ? '\u2013' : '') + abs(datum.value)"}},
      "x2": {"field": "hiC"},
      "y": {"field": "r", "type": "quantitative", "scale": {"domain": [-1.55, 10.958], "reverse": true, "nice": false, "zero": false}}}},
    {"mark": {"type": "point", "shape": "square", "filled": true, "color": "#00c800", "opacity": 1, "yOffset": -2},
     "encoding": {"x": {"field": "es", "type": "quantitative", "axis": {"orient": "bottom", "values": [-1, -0.5, 0, 0.5, 1], "title": null, "domain": false, "labels": false, "ticks": true, "tickSize": 14, "tickWidth": 2, "tickColor": "black", "offset": -7}},
      "y": {"field": "r", "type": "quantitative"},
      "size": {"field": "w", "type": "quantitative", "scale": {"domain": [0, 25], "range": [9, 122], "zero": false}, "legend": null}}},
    {"transform": [{"filter": "datum.hi > 1.11"}], "mark": {"type": "point", "shape": "M-1,-0.75L0,0L-1,0.75Z", "filled": true, "color": "black", "opacity": 1, "size": 400, "yOffset": -4},
     "encoding": {"x": {"field": "hiC", "type": "quantitative", "axis": null}, "y": {"field": "r", "type": "quantitative"}}},
    {"data": {"values": [{}]}, "mark": {"type": "rule", "strokeWidth": 2.5}, "encoding": {"x": {"datum": -1.11, "type": "quantitative", "axis": null}, "x2": {"datum": 1.185}, "y": {"datum": 0.352}}},
    {"data": {"values": [{"h": "Std. Mean Difference"}]}, "mark": {"type": "text", "fontSize": 21, "fontWeight": "bold", "dy": -3.5}, "encoding": {"x": {"datum": 0, "axis": null}, "y": {"datum": -1}, "text": {"field": "h", "type": "nominal"}}},
    {"data": {"values": [{"h": "IV, Random, 95% CI"}]}, "mark": {"type": "text", "fontSize": 21, "fontWeight": "bold", "dy": -3.5}, "encoding": {"x": {"datum": 0, "axis": null}, "y": {"datum": 0}, "text": {"field": "h", "type": "nominal"}}},
    {"data": {"values": [{}]}, "mark": {"type": "rule", "strokeWidth": 2}, "encoding": {"x": {"datum": 0, "axis": null}, "y": {"datum": 0.352}, "y2": {"datum": 10.958}}},
    {"data": {"name": "cT"}, "transform": [{"fold": ["lo", "es", "hi"], "as": ["k", "v"]}, {"calculate": "datum.k == 'es' ? 1 : 0", "as": "t"}],
     "mark": {"type": "trail", "color": "black", "yOffset": -1.5},
     "encoding": {"x": {"field": "v", "type": "quantitative", "axis": null}, "y": {"datum": 10}, "size": {"field": "t", "type": "quantitative", "scale": {"domain": [0, 1], "range": [0, 27]}, "legend": null}}},
    {"data": {"values": [{"f": "Favours [Control]"}]}, "mark": {"type": "text", "fontSize": 23, "align": "right", "dx": -4, "dy": 48}, "encoding": {"x": {"datum": 0, "axis": null}, "y": {"value": "height"}, "text": {"field": "f", "type": "nominal"}}},
    {"data": {"values": [{"f": "Favours [Acupuncture]"}]}, "mark": {"type": "text", "fontSize": 23, "align": "left", "dx": 11, "dy": 48}, "encoding": {"x": {"datum": 0, "axis": null}, "y": {"value": "height"}, "text": {"field": "f", "type": "nominal"}}}
   ]}
]}
]
}
